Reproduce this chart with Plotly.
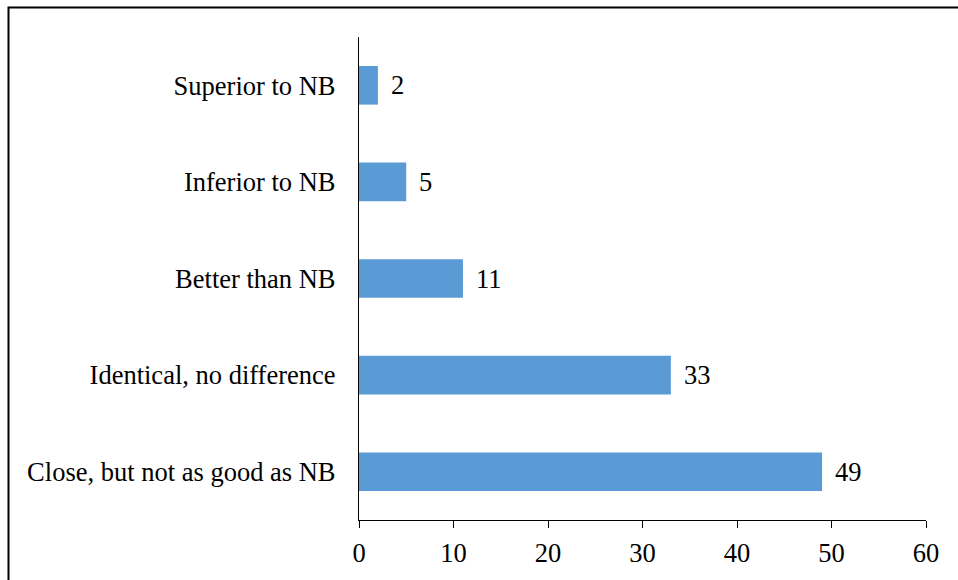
import plotly.graph_objects as go

categories = ["Close, but not as good as NB", "Identical, no difference", "Better than NB",
              "Inferior to NB", "Superior to NB"]
values = [49, 33, 11, 5, 2]
x_ticks = [0, 10, 20, 30, 40, 50, 60]

FONT = "Liberation Serif"
tf = dict(family=FONT, size=26.5, color="black")

fig = go.Figure()
fig.add_trace(go.Bar(
    x=values, y=categories, orientation="h",
    marker=dict(color="#5B9BD5", line=dict(width=0)),
    width=0.4,
    hoverinfo="skip",
))

for v, c in zip(values, categories):
    fig.add_annotation(x=v, y=c, text=str(v), showarrow=False, xanchor="left",
                       xshift=11, font=tf)

fig.update_layout(
    width=958, height=580,
    margin=dict(l=359, r=32, t=37, b=58),
    paper_bgcolor="white", plot_bgcolor="white",
    showlegend=False,
    font=tf,
    xaxis=dict(range=[0, 60], tickvals=x_ticks, showgrid=False, zeroline=False,
               showline=True, linecolor="black", linewidth=1.3,
               ticks="outside", ticklen=7, tickcolor="black", tickwidth=1.3,
               ticklabelstandoff=2, tickfont=tf),
    yaxis=dict(showgrid=False, zeroline=False, showline=True, linecolor="black",
               linewidth=1.3, ticks="", ticklabelstandoff=17, tickfont=tf,
               range=[-0.5, 4.5]),
    shapes=[dict(type="rect", xref="paper", yref="paper",
                 x0=(8.5 - 359) / 567, x1=1.2, y0=-0.3, y1=(522 - 7.5) / 485,
                 line=dict(color="black", width=2))],
)

fig.write_html("out.html")
